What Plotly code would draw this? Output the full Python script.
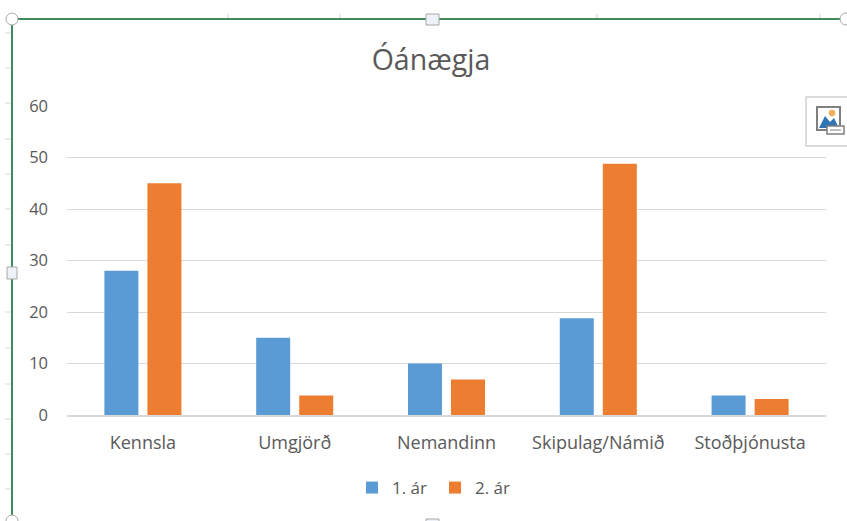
import plotly.graph_objects as go

categories = ["Kennsla", "Umgjörð", "Nemandinn", "Skipulag/Námið", "Stoðþjónusta"]
year1 = [28, 15, 10, 18.8, 3.8]
year2 = [45, 3.8, 6.9, 48.8, 3.1]
series_names = ["1. ár", "2. ár"]
title = "Óánægja"

W, H = 847, 521
L, R, T, B = 67, 826, 106, 415
def px(x): return (x - L) / (R - L)
def py(y): return (B - y) / (B - T)

shapes = []
def line(x0, y0, x1, y1, color, width):
    shapes.append(dict(type="line", xref="paper", yref="paper", x0=px(x0), y0=py(y0), x1=px(x1), y1=py(y1),
                       line=dict(color=color, width=width), layer="above"))
def rect(x0, y0, x1, y1, fill, color, width=1):
    shapes.append(dict(type="rect", xref="paper", yref="paper", x0=px(x0), y0=py(y0), x1=px(x1), y1=py(y1),
                       fillcolor=fill, line=dict(color=color, width=width), layer="above"))
def circ(x0, y0, x1, y1, fill, color, width=1):
    shapes.append(dict(type="circle", xref="paper", yref="paper", x0=px(x0), y0=py(y0), x1=px(x1), y1=py(y1),
                       fillcolor=fill, line=dict(color=color, width=width), layer="above"))

# window ruler ticks
for x in [228, 340, 597, 820]:
    line(x, 14, x, 19, "#d0d0d0", 1)
for y in [33, 68, 103, 139, 174, 209, 245, 312, 348, 384, 419, 454, 489]:
    line(5, y, 11, y, "#d8d8d8", 1)
# selection frame
line(12, 19, 847, 19, "#3f8a5f", 2)
line(12, 19, 12, 521, "#3f8a5f", 2)
circ(6, 13, 18, 25, "#ffffff", "#a8a8a8")
circ(840, 13, 852, 25, "#ffffff", "#a8a8a8")
circ(6, 515, 18, 527, "#ffffff", "#a8a8a8")
rect(426, 14, 439, 25, "#eef2f8", "#a8a8a8")
rect(7, 267, 17, 279, "#eef2f8", "#a8a8a8")
rect(426, 519, 439, 526, "#eef2f8", "#a8a8a8")
# picture button
rect(806, 97, 850, 146, "#ffffff", "#d0d0d0", 1.5)
rect(817, 107, 840, 130, "#ffffff", "#7f7f7f", 2)
circ(829, 110, 835, 116, "#f0b060", "#f0b060")
shapes.append(dict(type="path", xref="paper", yref="paper",
    path=f"M {px(819)} {py(128)} L {px(825)} {py(116)} L {px(830)} {py(122)} L {px(834)} {py(118)} L {px(839)} {py(128)} Z",
    fillcolor="#2f75b5", line=dict(width=0), layer="above"))
rect(827, 126, 844, 134, "#ffffff", "#7f7f7f", 1.5)
line(830, 130, 841, 130, "#a8a8a8", 1.5)

fig = go.Figure()
fig.add_bar(name=series_names[0], x=categories, y=year1, marker=dict(color="#5b9bd5", line_width=0))
fig.add_bar(name=series_names[1], x=categories, y=year2, marker=dict(color="#ed7d31", line_width=0))

font = "'Open Sans', Lato, sans-serif"
fig.update_layout(
    width=W, height=H, autosize=False,
    margin=dict(l=L, r=W - R, t=T, b=H - B, pad=0),
    paper_bgcolor="#ffffff", plot_bgcolor="#ffffff",
    barmode="group", bargap=0.433, bargroupgap=0.21,
    title=dict(text=title, x=431 / W, xanchor="center", y=1 - 60 / H, yanchor="middle",
               font=dict(family=font, size=28.5, color="#595959")),
    font=dict(family=font, size=16, color="#595959"),
    legend=dict(orientation="h", x=(435 - L) / (R - L), xanchor="center", y=py(488), yanchor="middle",
                font=dict(size=17, color="#595959"), itemwidth=30, entrywidth=38, entrywidthmode="pixels",
                traceorder="normal"),
    shapes=shapes,
    showlegend=True,
)
fig.update_xaxes(showgrid=False, showline=True, linecolor="#d9d9d9", linewidth=1.5, ticks="", ticklabelstandoff=11,
                 tickfont=dict(size=18, color="#595959"))
fig.update_yaxes(range=[0, 60], dtick=10, showgrid=True, gridcolor="#d9d9d9", gridwidth=1, zeroline=False,
                 showline=False, ticks="", ticklabelstandoff=18, tickfont=dict(size=16.5, color="#595959"))
fig.write_html("out.html", config=dict(displayModeBar=False),
               post_script="document.body.style.margin='0';document.documentElement.style.overflow='hidden';")
